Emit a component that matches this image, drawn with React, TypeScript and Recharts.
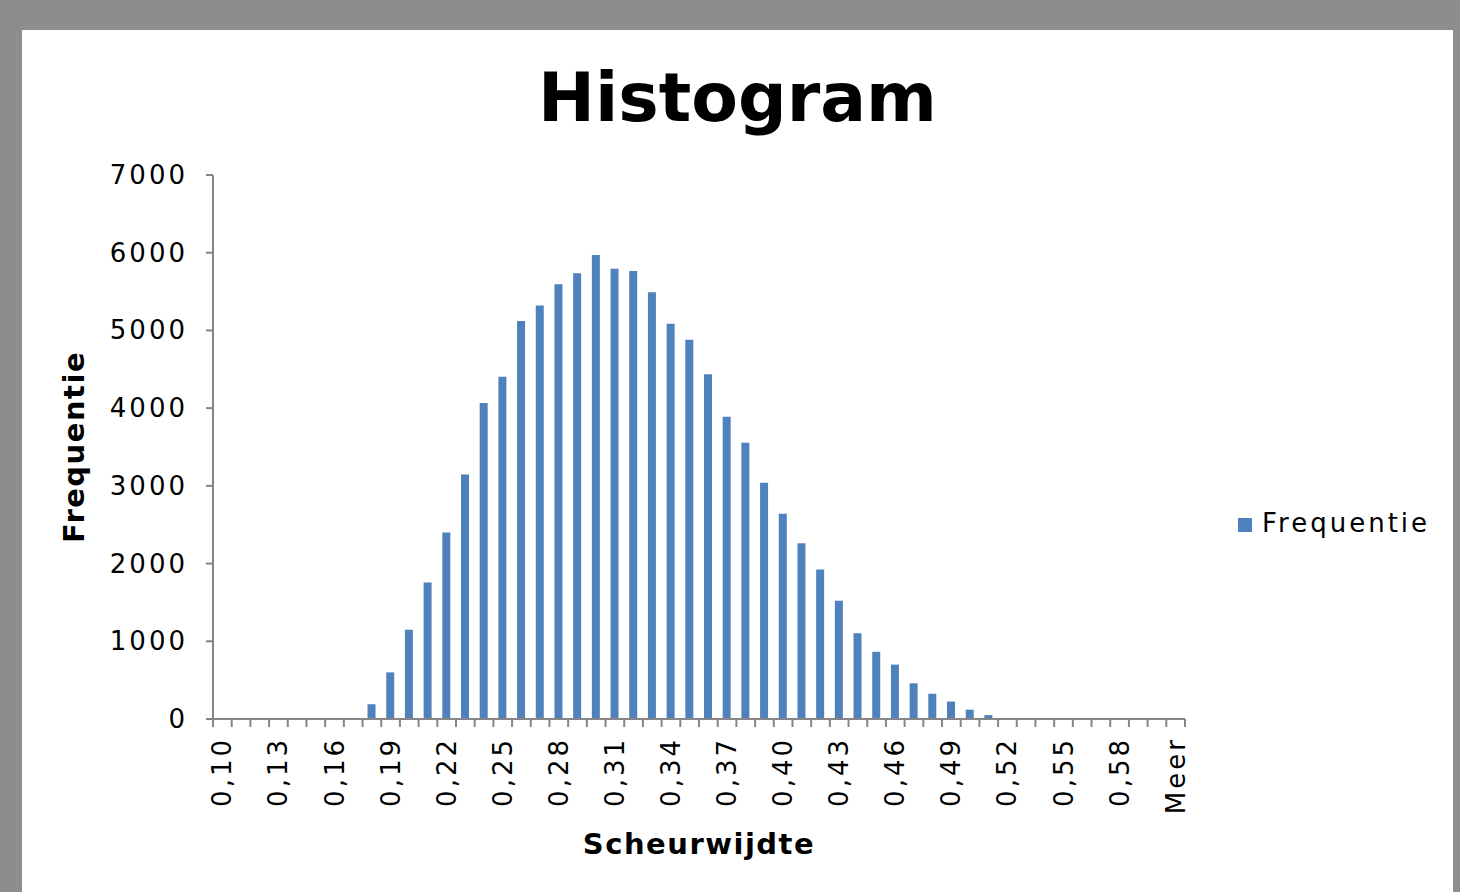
import { BarChart, Bar, XAxis, YAxis, Legend, Label } from "recharts";

const categories = [
  "0,10", "0,11", "0,12", "0,13", "0,14", "0,15", "0,16", "0,17", "0,18", "0,19",
  "0,20", "0,21", "0,22", "0,23", "0,24", "0,25", "0,26", "0,27", "0,28", "0,29",
  "0,30", "0,31", "0,32", "0,33", "0,34", "0,35", "0,36", "0,37", "0,38", "0,39",
  "0,40", "0,41", "0,42", "0,43", "0,44", "0,45", "0,46", "0,47", "0,48", "0,49",
  "0,50", "0,51", "0,52", "0,53", "0,54", "0,55", "0,56", "0,57", "0,58", "0,59",
  "0,60", "Meer",
];

const frequencies = [
  0, 0, 0, 0, 0, 0, 0, 0, 190, 600,
  1150, 1755, 2400, 3145, 4065, 4405, 5120, 5320, 5595, 5735,
  5970, 5795, 5765, 5490, 5085, 4880, 4435, 3890, 3555, 3040,
  2640, 2260, 1925, 1520, 1105, 865, 700, 460, 325, 225,
  120, 50, 0, 0, 0, 0, 0, 0, 0, 0,
  0, 0,
];

const yTicks = [0, 1000, 2000, 3000, 4000, 5000, 6000, 7000];
const labelEvery = 3;

const data = categories.map((bin, i) => ({ bin, freq: frequencies[i] }));

const CHART_W = 1431;
const CHART_H = 862;
const Y_AXIS_W = 80;
const X_AXIS_H = 110;
const margin = { top: 145, right: 268, left: 111, bottom: 63 };
const band = (CHART_W - margin.left - Y_AXIS_W - margin.right) / categories.length;

const axisGray = "#868686";
const barBlue = "#4f81bd";
const font = "'DejaVu Sans', Verdana, sans-serif";

const XTick = (props: any) => {
  const { x, y, payload } = props;
  const i = payload.index;
  const ty = y + 18;
  return (
    <g>
      <line x1={x - band / 2} x2={x - band / 2} y1={y} y2={y + 8} stroke={axisGray} strokeWidth={2} />
      {i === categories.length - 1 && (
        <line x1={x + band / 2} x2={x + band / 2} y1={y} y2={y + 8} stroke={axisGray} strokeWidth={2} />
      )}
      {i % labelEvery === 0 && (
        <text
          x={x}
          y={ty}
          transform={`rotate(-90, ${x}, ${ty})`}
          textAnchor="end"
          dominantBaseline="central"
          fontSize={26}
          fill="#000"
          style={{ letterSpacing: "3px" }}
        >
          {payload.value}
        </text>
      )}
    </g>
  );
};

const YTick = (props: any) => {
  const { x, y, payload } = props;
  return (
    <text
      x={x}
      y={y}
      textAnchor="end"
      dominantBaseline="central"
      fontSize={26}
      fill="#000"
      style={{ letterSpacing: "3px" }}
    >
      {payload.value}
    </text>
  );
};

export default function App() {
  return (
    <div
      style={{
        position: "absolute",
        left: 0,
        top: 0,
        width: 1460,
        height: 892,
        background: "#8d8d8d",
        overflow: "hidden",
        fontFamily: font,
      }}
    >
      <div
        style={{
          position: "absolute",
          left: 22,
          top: 30,
          width: CHART_W,
          height: CHART_H,
          background: "#fff",
        }}
      >
        <div
          style={{
            position: "absolute",
            left: 0,
            top: 34,
            width: "100%",
            textAlign: "center",
            fontSize: 68,
            lineHeight: "68px",
            fontWeight: "bold",
            color: "#000",
          }}
        >
          Histogram
        </div>
        <BarChart width={CHART_W} height={CHART_H} data={data} margin={margin}>
          <XAxis
            dataKey="bin"
            height={X_AXIS_H}
            interval={0}
            tickSize={0}
            tickMargin={0}
            tickLine={false}
            axisLine={{ stroke: axisGray, strokeWidth: 2 }}
            tick={<XTick />}
          >
            <Label
              content={() => (
                <text x={677} y={824} textAnchor="middle" fontSize={29} fontWeight="bold" fill="#000" style={{ letterSpacing: "1.5px" }}>
                  Scheurwijdte
                </text>
              )}
            />
          </XAxis>
          <YAxis
            width={Y_AXIS_W}
            domain={[0, 7000]}
            ticks={yTicks}
            interval={0}
            tickSize={7}
            tickMargin={18}
            tickLine={{ stroke: axisGray, strokeWidth: 2 }}
            axisLine={{ stroke: axisGray, strokeWidth: 2 }}
            tick={<YTick />}
          >
            <Label
              content={() => (
                <text
                  x={62}
                  y={417}
                  transform="rotate(-90, 62, 417)"
                  textAnchor="middle"
                  fontSize={29}
                  fontWeight="bold"
                  fill="#000"
                  style={{ letterSpacing: "1.5px" }}
                >
                  Frequentie
                </text>
              )}
            />
          </YAxis>
          <Legend
            layout="horizontal"
            align="center"
            verticalAlign="middle"
            iconType="square"
            iconSize={14}
            wrapperStyle={{ left: 1216, top: 478, width: "auto", fontSize: 26 }}
            formatter={(value) => (
              <span style={{ color: "#000", marginLeft: 6, letterSpacing: "3px" }}>{value}</span>
            )}
          />
          <Bar dataKey="freq" name="Frequentie" fill={barBlue} barSize={8} isAnimationActive={false} />
        </BarChart>
      </div>
    </div>
  );
}
